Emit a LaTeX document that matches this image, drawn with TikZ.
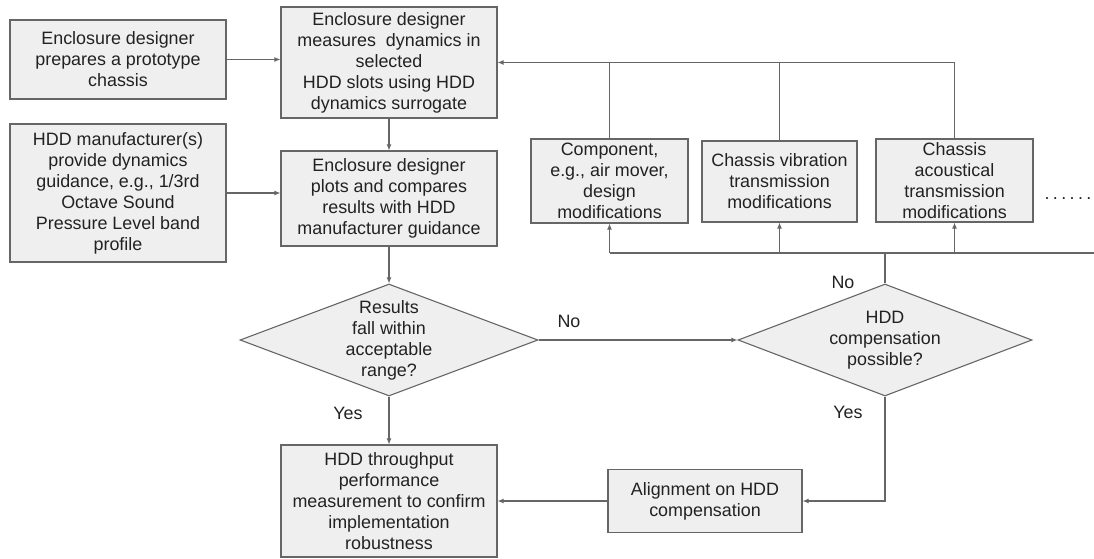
\documentclass[tikz,border=0pt]{standalone}
\usepackage{fontspec}
\setmainfont{Liberation Sans}
\usetikzlibrary{arrows.meta,shapes.geometric}
\definecolor{boxfill}{HTML}{EFEFEF}
\definecolor{edge}{HTML}{666666}
\definecolor{txt}{HTML}{222222}
\begin{document}
\begin{tikzpicture}[x=1pt,y=-1pt,
 every node/.style={font=\fontsize{17.9}{21}\selectfont, text=txt},
 box/.style={draw=edge, fill=boxfill, line width=1.1pt, align=center, inner sep=0pt},
 dia/.style={diamond, draw=edge, fill=boxfill, line width=1.1pt, inner sep=0pt},
 dtext/.style={align=center, inner sep=0pt},
 conn/.style={draw=edge, line width=1.1pt},
 arr/.style={conn, -{Latex[length=6pt,width=5pt]}},
 lbl/.style={inner sep=0pt}]
\useasboundingbox (0,0) rectangle (1094,559);

\node[box, minimum width=216pt, minimum height=79pt] (A) at (118,59.5)
  {Enclosure designer\\prepares a prototype\\chassis};
\node[box, minimum width=216pt, minimum height=111pt] (B) at (389,62.5)
  {Enclosure designer\\measures\ \ dynamics in\\selected\\HDD slots using HDD\\dynamics surrogate};
\node[box, minimum width=216pt, minimum height=138pt] (C) at (118,193)
  {HDD manufacturer(s)\\provide dynamics\\guidance, e.g., 1/3rd\\Octave Sound\\Pressure Level band\\profile};
\node[box, minimum width=216pt, minimum height=95pt] (D) at (389,198.5)
  {Enclosure designer\\plots and compares\\results with HDD\\manufacturer guidance};
\node[box, minimum width=216pt, minimum height=112pt] (E) at (389,501)
  {HDD throughput\\performance\\measurement to confirm\\implementation\\robustness};
\node[box, minimum width=194pt, minimum height=63pt] (F) at (705,501)
  {Alignment on HDD\\compensation};
\node[box, minimum width=157pt, minimum height=84pt] (G) at (609.5,181)
  {Component,\\e.g., air mover,\\design\\modifications};
\node[box, minimum width=155pt, minimum height=81pt] (H) at (779.5,181.5)
  {Chassis vibration\\transmission\\modifications};
\node[box, minimum width=157pt, minimum height=83pt] (I) at (954.5,180.5)
  {Chassis\\acoustical\\transmission\\modifications};
\node[lbl] (dots) at (1068,199) {.\hspace{3.4pt}.\hspace{3.4pt}.\hspace{3.4pt}.\hspace{3.4pt}.\hspace{3.4pt}.};

\node[dia, minimum width=298pt, minimum height=112pt] (d1) at (389,340) {};
\node[dtext] (d1t) at (d1.center) {Results\\fall within\\acceptable\\range?};
\node[dia, minimum width=294pt, minimum height=112pt] (d2) at (885,340) {};
\node[dtext] (d2t) at (d2.center) {HDD\\compensation\\possible?};

\node[lbl] (no1) at (569,321) {No};
\node[lbl] (yes1) at (348,413) {Yes};
\node[lbl] (no2) at (843,282) {No};
\node[lbl] (yes2) at (848,412) {Yes};

\coordinate (bus) at (d2.north |- 0,253);
\coordinate (busR) at (1094,253);

% connectors
\draw[arr] (A.east) -- (A.east -| B.west);
\draw[arr] (C.east) -- (C.east -| D.west);
\draw[arr] (B.south) -- (D.north);
\draw[arr] (D.south) -- (d1.north);
\draw[arr] (d1.east) -- (d2.west);
\draw[arr] (d1.south) -- (E.north);
\draw[arr] (d2.south) |- (F.east);
\draw[arr] (F.west) -- (F.west -| E.east);

\draw[conn] (d2.north) -- (bus);
\draw[conn] (G.south |- bus) -- (busR);
\draw[arr] (G.south |- bus) -- (G.south);
\draw[arr] (H.south |- bus) -- (H.south);
\draw[arr] (I.south |- bus) -- (I.south);

\draw[conn] (G.north) -- (G.north |- B.east);
\draw[conn] (H.north) -- (H.north |- B.east);
\draw[arr] (I.north) -- (I.north |- B.east) -- (B.east);
\end{tikzpicture}
\end{document}
